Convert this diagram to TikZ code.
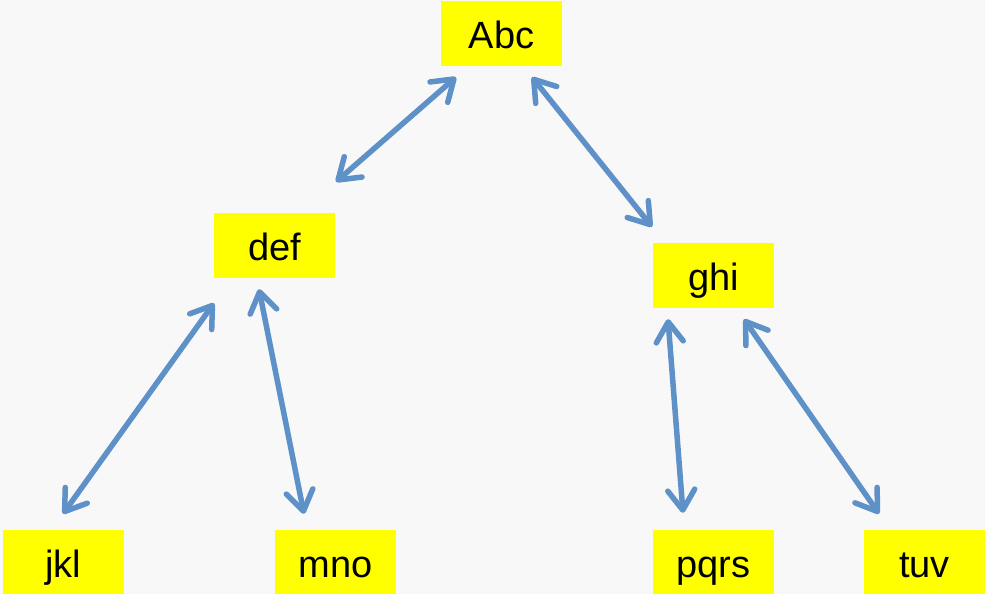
\documentclass[tikz,border=0pt]{standalone}
\usepackage{fontspec}
\setmainfont{Liberation Sans}
\usetikzlibrary{arrows.meta}

\definecolor{linkblue}{RGB}{93,145,200}
\definecolor{paper}{RGB}{248,248,248}
\definecolor{boxyellow}{RGB}{255,255,0}

\tikzset{
  treebox/.style={fill=boxyellow, inner sep=0pt, minimum width=121pt, minimum height=65pt,
    text height=30pt, text depth=0pt, font=\fontsize{38}{40}\selectfont},
  treelink/.style={draw=linkblue, line width=5.5pt, line cap=round,
    {Straight Barb[round,length=20pt,width=27pt]}-{Straight Barb[round,length=20pt,width=27pt]}}
}

\begin{document}
\begin{tikzpicture}[x=1pt,y=-1pt]

  % Background
  \fill[paper] (0,0) rectangle (985,594);
  \useasboundingbox (0,0) rectangle (985,594);

  % Draw boxes
  \node[treebox] (abc) at (501.5,33.5) {Abc};
  \node[treebox] (def) at (274.5,245.5) {def};
  \node[treebox] (ghi) at (713.5,275.5) {ghi};

  \node[treebox] (jkl) at (63.5,562.5) {jkl};
  \node[treebox] (mno) at (335.5,562.5) {mno};
  \node[treebox] (pqrs) at (713.5,562.5) {pqrs};
  \node[treebox] (tuv) at (924.5,562.5) {tuv};

  % Draw links
  \draw[treelink] ([shift={(-45.5pt,-11pt)}]abc.south) -- ([shift={(61.5pt,31pt)}]def.north);
  \draw[treelink] ([shift={(30.5pt,-11pt)}]abc.south) -- ([shift={(-61.5pt,16pt)}]ghi.north);

  \draw[treelink] ([shift={(-60.5pt,-25pt)}]def.south) -- ([shift={(-0.5pt,16pt)}]jkl.north);
  \draw[treelink] ([shift={(-15.5pt,-11pt)}]def.south) -- ([shift={(-31.5pt,16pt)}]mno.north);

  \draw[treelink] ([shift={(-45.5pt,-11pt)}]ghi.south) -- ([shift={(-30.5pt,17pt)}]pqrs.north);
  \draw[treelink] ([shift={(30.5pt,-11pt)}]ghi.south) -- ([shift={(-45.5pt,16pt)}]tuv.north);

\end{tikzpicture}
\end{document}
